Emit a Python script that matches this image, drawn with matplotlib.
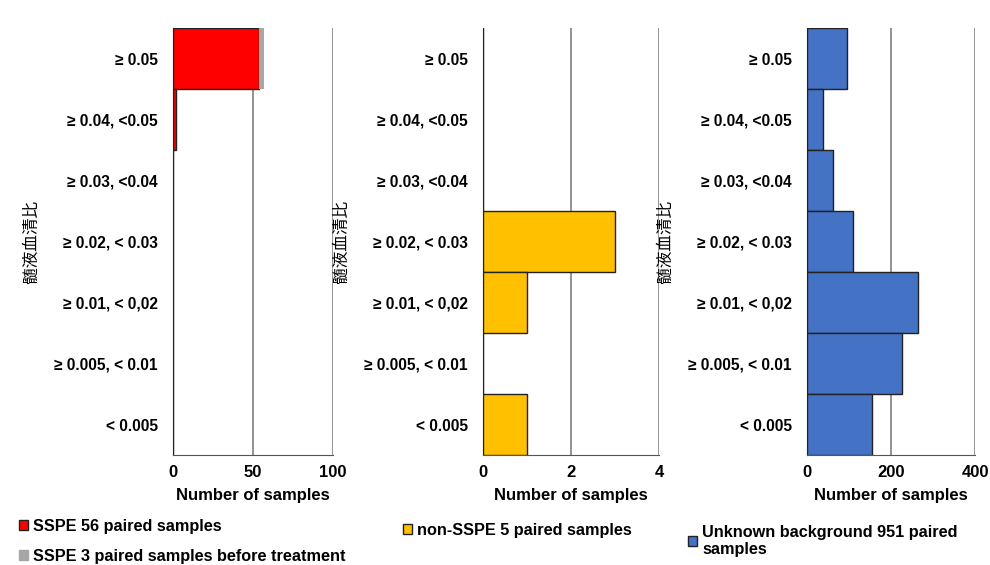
import numpy as np
import matplotlib.pyplot as plt
from matplotlib.patches import Patch

plt.rcParams['font.family'] = ['Liberation Sans', 'DejaVu Sans']

# CSF/serum ratio bins, top to bottom
ratio_bins = ['≥ 0.05', '≥ 0.04, <0.05', '≥ 0.03, <0.04', '≥ 0.02, < 0.03',
              '≥ 0.01, < 0,02', '≥ 0.005, < 0.01', '< 0.005']

sspe_counts = [54, 2, 0, 0, 0, 0, 0]
sspe_pre_counts = [3, 0, 0, 0, 0, 0, 0]
non_sspe_counts = [0, 0, 0, 3, 1, 0, 1]
unknown_counts = [95, 39, 63, 109, 265, 225, 155]

ylabel = '髄液血清比'
xlabel = 'Number of samples'

fig = plt.figure(figsize=(9.9, 5.65), dpi=100)

positions = [
    [173 / 990, 110 / 565, 160 / 990, 427 / 565],
    [483 / 990, 110 / 565, 176 / 990, 427 / 565],
    [807 / 990, 110 / 565, 168 / 990, 427 / 565],
]
xlims = [(0, 100), (0, 4), (0, 400)]
xticks = [[0, 50, 100], [0, 2, 4], [0, 200, 400]]

y = np.arange(len(ratio_bins))
axes = [fig.add_axes(p) for p in positions]

axes[0].barh(y, sspe_counts, height=1.0, color='#ff0000', edgecolor='#222222', linewidth=1, zorder=3)
axes[0].barh(y, sspe_pre_counts, left=sspe_counts, height=1.0, color='#a6a6a6', linewidth=0, zorder=3)
axes[1].barh(y, non_sspe_counts, height=1.0, color='#ffc000', edgecolor='#222222', linewidth=1, zorder=3)
axes[2].barh(y, unknown_counts, height=1.0, color='#4472c4', edgecolor='#222222', linewidth=1, zorder=3)

for ax, xl, xt in zip(axes, xlims, xticks):
    ax.set_xlim(*xl)
    ax.set_ylim(len(ratio_bins) - 0.5, -0.5)
    ax.set_xticks(xt)
    ax.set_yticks(y)
    ax.set_yticklabels(ratio_bins, fontsize=11.2, fontweight='bold')
    ax.tick_params(axis='x', labelsize=12, length=0, pad=7)
    for lab in ax.get_xticklabels():
        lab.set_fontweight('bold')
    ax.tick_params(axis='y', length=0, pad=11)
    ax.grid(axis='x', color='#808080', linewidth=1.2, zorder=1)
    for s in ['top', 'right']:
        ax.spines[s].set_visible(False)
    ax.spines['left'].set_color('#222222')
    ax.spines['bottom'].set_color('#555555')
    ax.set_xlabel(xlabel, fontsize=12, fontweight='bold', labelpad=6)
    ax.set_ylabel(ylabel, fontsize=12, family=['Noto Sans CJK JP', 'DejaVu Sans'], labelpad=10)

legend_kw = dict(frameon=False, prop={'weight': 'bold', 'size': 11.7},
                 handlelength=0.6, handleheight=0.6, handletextpad=0.3)

fig.legend(handles=[Patch(facecolor='#ff0000', edgecolor='#222222', label='SSPE 56 paired samples'),
                    Patch(facecolor='#a6a6a6', edgecolor='#a6a6a6', label='SSPE 3 paired samples before treatment')],
           loc='upper left', bbox_to_anchor=(4 / 990, 1 - 504 / 565), labelspacing=0.95, **legend_kw)
fig.legend(handles=[Patch(facecolor='#ffc000', edgecolor='#222222', label='non-SSPE 5 paired samples')],
           loc='upper left', bbox_to_anchor=(388 / 990, 1 - 508 / 565), **legend_kw)
fig.legend(handles=[Patch(facecolor='#4472c4', edgecolor='#222222', label='Unknown background 951 paired\nsamples')],
           loc='upper left', bbox_to_anchor=(673 / 990, 1 - 510 / 565), labelspacing=0.2, **legend_kw)

fig.savefig('out.png', dpi=100)
